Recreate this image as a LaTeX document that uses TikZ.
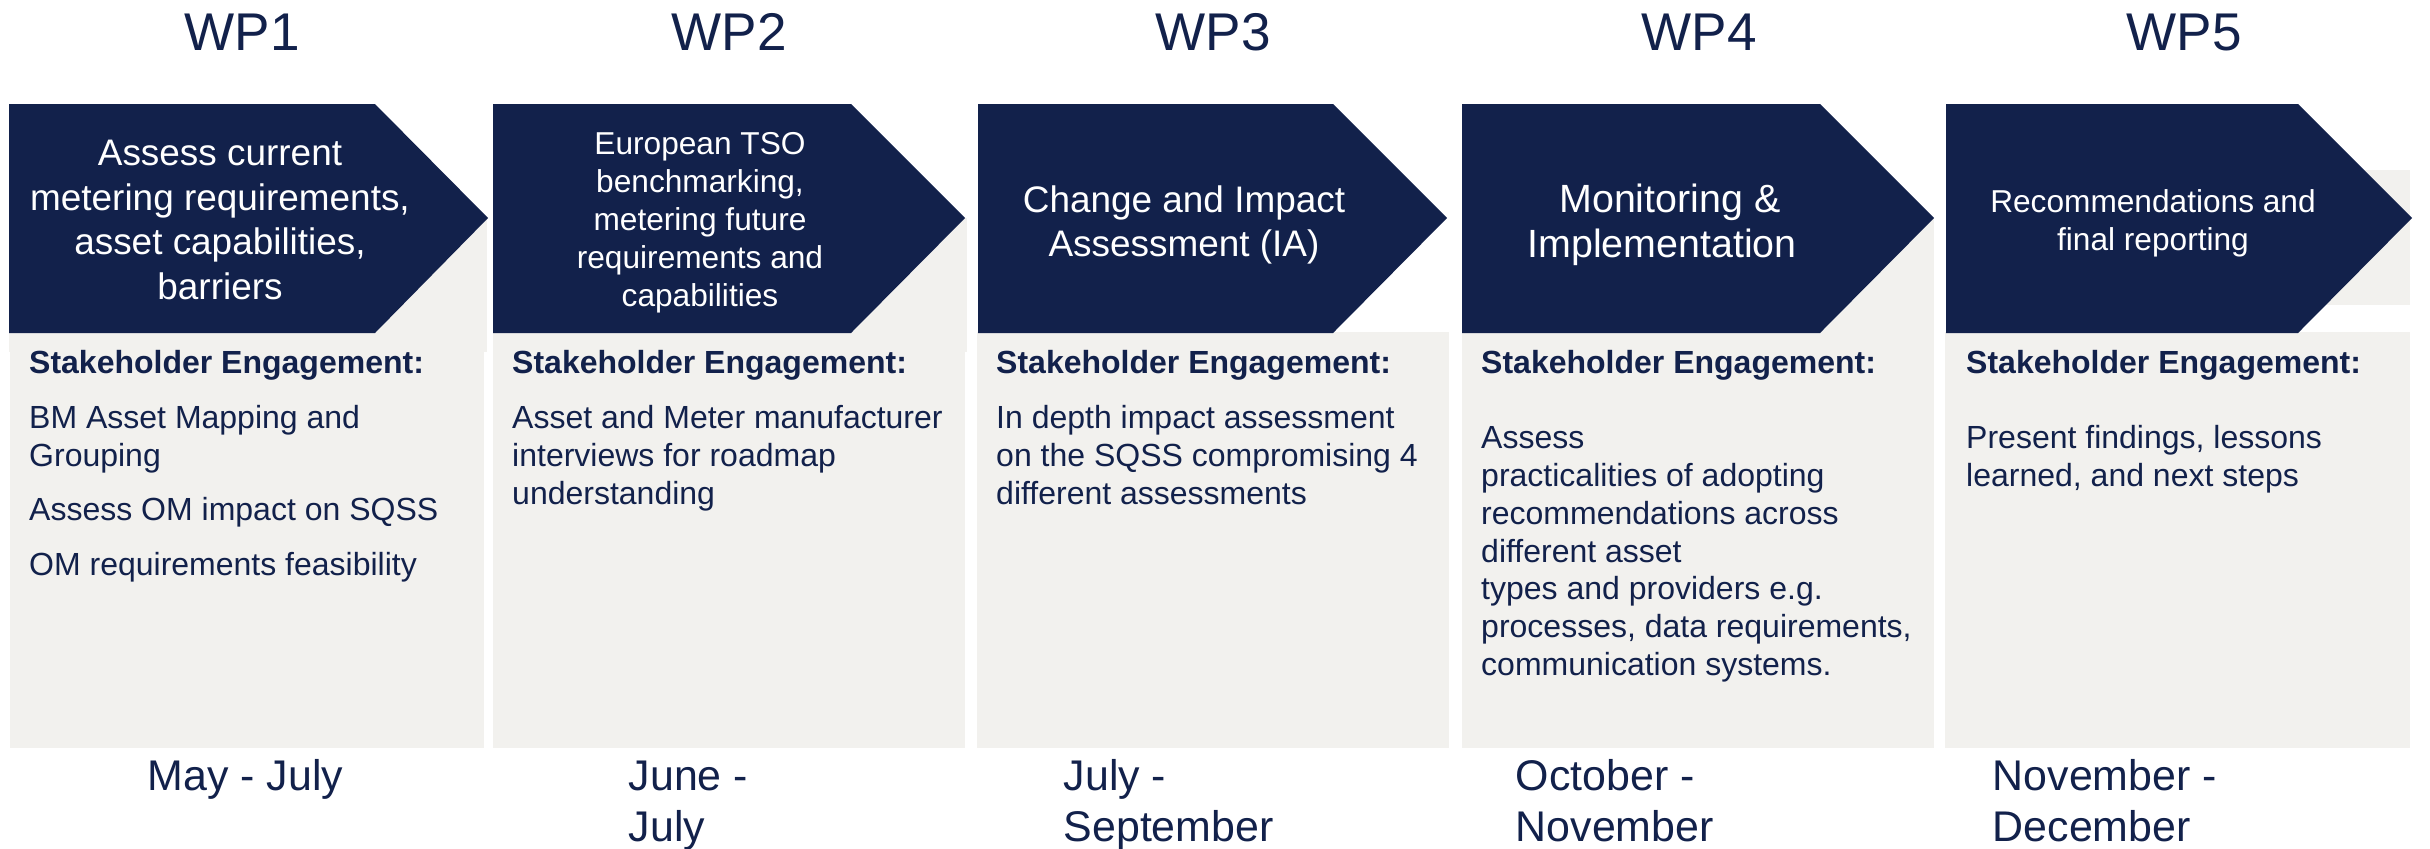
\documentclass[tikz,border=0pt]{standalone}
\usepackage{fontspec}
\setmainfont{Liberation Sans}
\usetikzlibrary{positioning}
\definecolor{wpnavy}{HTML}{12214B}
\definecolor{wpgrey}{HTML}{F2F1EE}
\tikzset{
  wparrow/.style={fill=wpnavy},
  wpback/.style={fill=wpgrey},
  wptitle/.style={text=wpnavy, anchor=base, inner sep=0, font=\fontsize{15.1}{18}\selectfont},
  tasktext/.style={text=white, align=center, inner sep=0, font=\fontsize{10.5}{12.66}\selectfont},
  tasksmall/.style={text=white, align=center, inner sep=0, font=\fontsize{9}{10.8}\selectfont},
  stake/.style={text=wpnavy, align=left, anchor=north west, inner sep=0, font=\fontsize{9.1}{10.75}\selectfont},
  period/.style={text=wpnavy, align=left, anchor=north west, inner sep=0, font=\fontsize{12.2}{14.5}\selectfont}
}

\begin{document}
\begin{tikzpicture}[x=0.01cm, y=-0.01cm]
				\useasboundingbox[fill=white] (0,0) rectangle (2430,848);
				\fill[wpback] (9,218) rectangle (487,352);
				\fill[wpback] (10,332) rectangle (484,748);
				\fill[wpback] (493,218) rectangle (967,352);
				\fill[wpback] (493,332) rectangle (965,748);
				\fill[wpback] (977,332) rectangle (1449,748);
				\fill[wpback] (1462,218) rectangle (1934,352);
				\fill[wpback] (1462,332) rectangle (1934,748);
				\fill[wpback] (1946,170) rectangle (2410,305);
				\fill[wpback] (1945,332) rectangle (2410,748);
				\fill[wparrow] (9,104) -- (375,104) -- (488,218) -- (375,333) -- (9,333) -- cycle;
				\fill[wparrow] (493,104) -- (851,104) -- (965,218) -- (851,333) -- (493,333) -- cycle;
				\fill[wparrow] (978,104) -- (1333,104) -- (1447,218) -- (1333,333) -- (978,333) -- cycle;
				\fill[wparrow] (1462,104) -- (1820,104) -- (1934,218) -- (1820,333) -- (1462,333) -- cycle;
				\fill[wparrow] (1946,104) -- (2298,104) -- (2412,218) -- (2298,333) -- (1946,333) -- cycle;
				\node[wptitle] (wp1) at (242,50) {WP1};
				\node[wptitle] (wp2) at (729,50) {WP2};
				\node[wptitle] (wp3) at (1213,50) {WP3};
				\node[wptitle] (wp4) at (1699,50) {WP4};
				\node[wptitle] (wp5) at (2184,50) {WP5};
				\node[tasktext] (task1) at (220,220) {Assess current\\metering requirements,\\asset capabilities,\\barriers};
				\node[tasksmall] (task2) at (700,223) {European TSO\\benchmarking,\\metering future\\requirements and\\capabilities};
				\node[tasktext] (task3) at (1184,225) {Change and Impact\\Assessment (IA)};
				\node[tasktext, font=\fontsize{11.2}{12.8}\selectfont] (task4) at (1662,225) {\hspace*{0.4em}Monitoring \&\\Implementation};
				\node[tasksmall] (task5) at (2153,223) {Recommendations and\\final reporting};
				\node[stake] (stake1) at (28.5,346.5) {{\bfseries\strut Stakeholder Engagement:}\\[4.9pt]BM Asset Mapping and\\Grouping\\[4.7pt]Assess OM impact on SQSS\\[4.9pt]OM requirements feasibility};
				\node[stake] (stake2) at (511.5,346.5) {{\bfseries\strut Stakeholder Engagement:}\\[4.9pt]Asset and Meter manufacturer\\interviews for roadmap\\understanding};
				\node[stake] (stake3) at (995.5,346.5) {{\bfseries\strut Stakeholder Engagement:}\\[4.9pt]In depth impact assessment\\on the SQSS compromising 4\\different assessments};
				\node[stake] (stake4) at (1480.5,346.5) {{\bfseries\strut Stakeholder Engagement:}\\[10.6pt]Assess\\practicalities of adopting\\recommendations across\\different asset\\types and providers e.g.\\processes, data requirements,\\communication systems.};
				\node[stake] (stake5) at (1965.5,346.5) {{\bfseries\strut Stakeholder Engagement:}\\[10.6pt]Present findings, lessons\\learned, and next steps};
				\node[period] (period1) at (147,754.3) {\strut May - July};
				\node[period] (period2) at (628,754.3) {\strut June -\\July};
				\node[period] (period3) at (1063,754.3) {\strut July -\\September};
				\node[period] (period4) at (1515,754.3) {\strut October -\\November};
				\node[period] (period5) at (1992,754.3) {\strut November -\\December};
			\end{tikzpicture}
\end{document}
